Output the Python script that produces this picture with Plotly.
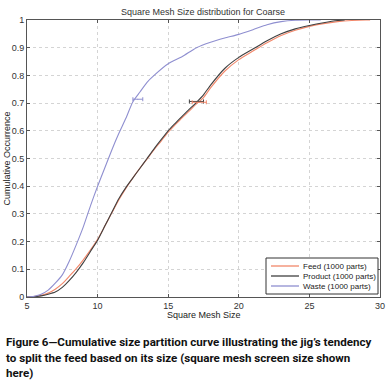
import plotly.graph_objects as go

# ---- data ----
feed_x = [5, 5.5, 6, 6.5, 7, 7.5, 8, 8.5, 9, 9.5, 10, 10.5, 11, 11.5, 12, 12.5, 13, 13.5, 14, 14.5,
          15, 15.5, 16, 16.5, 17, 17.5, 18, 19, 20, 21, 22, 23, 24, 25, 26, 27, 28, 29, 29.3]
feed_y = [0, 0.002, 0.006, 0.014, 0.028, 0.048, 0.075, 0.103, 0.135, 0.17, 0.208, 0.255, 0.303, 0.35,
          0.392, 0.43, 0.465, 0.498, 0.532, 0.563, 0.595, 0.622, 0.648, 0.672, 0.697, 0.72, 0.755,
          0.815, 0.857, 0.888, 0.918, 0.944, 0.963, 0.977, 0.987, 0.994, 0.998, 1.0, 1.0]

product_x = [5, 5.5, 6, 6.5, 7, 7.5, 8, 8.5, 9, 9.5, 10, 10.5, 11, 11.5, 12, 12.5, 13, 13.5, 14, 14.5,
             15, 15.5, 16, 16.5, 17, 17.5, 18, 19, 20, 21, 22, 23, 24, 25, 26, 27, 27.5]
product_y = [0, 0.001, 0.004, 0.01, 0.018, 0.035, 0.06, 0.09, 0.125, 0.165, 0.205, 0.255, 0.305, 0.355,
             0.395, 0.43, 0.465, 0.5, 0.535, 0.568, 0.6, 0.627, 0.653, 0.678, 0.703, 0.73, 0.765,
             0.825, 0.865, 0.895, 0.925, 0.95, 0.968, 0.98, 0.99, 0.998, 1.0]

waste_x = [5, 5.5, 6, 6.5, 7, 7.5, 8, 8.5, 9, 9.5, 10, 10.5, 11, 11.5, 12, 12.5, 13, 13.5, 14, 15,
           16, 17, 18, 19, 20, 21, 22, 23, 24, 25, 25.8]
waste_y = [0, 0.003, 0.01, 0.025, 0.05, 0.08, 0.13, 0.19, 0.255, 0.33, 0.4, 0.465, 0.53, 0.59, 0.645,
           0.705, 0.74, 0.775, 0.8, 0.842, 0.868, 0.9, 0.92, 0.935, 0.948, 0.965, 0.983, 0.994, 0.999,
           1.0, 1.0]

# horizontal error bars (centre x, y, half width)
err_feed = (17.2, 0.703, 0.5)
err_product = (17.0, 0.706, 0.5)
err_waste = (12.85, 0.714, 0.35)

names = ["Feed (1000 parts)", "Product (1000 parts)", "Waste (1000 parts)"]
colors = ["#f2876a", "#404040", "#8f8fd0"]

x_ticks = [5, 10, 15, 20, 25, 30]
y_ticks = [0, 0.1, 0.2, 0.3, 0.4, 0.5, 0.6, 0.7, 0.8, 0.9, 1]

caption = ["Figure 6\u2014Cumulative size partition curve illustrating the jig\u2019s tendency",
           "to split the feed based on its size (square mesh screen size shown",
           "here)"]

# plot area in pixels (layout only)
W, H = 387, 383
L, R, T, B = 27, 7, 20, 86
PW, PH = W - L - R, H - T - B


def px_x(p):
    return (p - L) / PW


def px_y(p):
    return (H - B - p) / PH


fig = go.Figure()
for xs, ys, nm, col in [(feed_x, feed_y, names[0], colors[0]),
                        (product_x, product_y, names[1], colors[1]),
                        (waste_x, waste_y, names[2], colors[2])]:
    fig.add_trace(go.Scatter(x=xs, y=ys, mode="lines", name=nm, showlegend=False,
                             line=dict(color=col, width=1.1, shape="spline", smoothing=0.6)))

for (cx, cy, hw), col in [(err_product, colors[1]), (err_feed, colors[0]), (err_waste, colors[2])]:
    fig.add_trace(go.Scatter(x=[cx], y=[cy], mode="markers", showlegend=False,
                             marker=dict(size=1, color=col),
                             error_x=dict(type="data", array=[hw], color=col, thickness=1, width=2)))

fig.update_layout(
    width=W, height=H,
    margin=dict(l=L, r=R, t=T, b=B, autoexpand=False),
    paper_bgcolor="white", plot_bgcolor="white",
    font=dict(family="Liberation Sans, Arial", size=9, color="#333"),
    title=dict(text="Square Mesh Size distribution for Coarse", x=203 / W,
               xanchor="center", xref="container", y=1 - 12 / H, yanchor="middle",
               font=dict(size=9, color="#333")),
    showlegend=False,
)
fig.update_xaxes(range=[5, 30], tickvals=x_ticks, showgrid=True, gridcolor="#d4d4d4",
                 griddash="dot", zeroline=False, showline=True, linecolor="#555",
                 mirror="ticks", ticks="inside", ticklen=3, tickcolor="#555", automargin=False,
                 tickfont=dict(size=9, color="#333"))
fig.update_yaxes(range=[0, 1], tickvals=y_ticks, ticktext=[("%g" % v) for v in y_ticks],
                 showgrid=True, gridcolor="#d4d4d4",
                 griddash="dot", zeroline=False, showline=True, linecolor="#555",
                 mirror="ticks", ticks="inside", ticklen=3, tickcolor="#555", automargin=False,
                 tickfont=dict(size=9, color="#333"))

# legend (drawn as a box in the lower right, MATLAB style)
lx0, lx1, ly0, ly1 = 266, 378, 258, 294
fig.add_shape(type="rect", xref="paper", yref="paper", x0=px_x(lx0), x1=px_x(lx1),
              y0=px_y(ly1), y1=px_y(ly0), line=dict(color="#333", width=1), fillcolor="white",
              layer="above")
row_y = [266, 276, 286]
for nm, col, ry in zip(names, colors, row_y):
    fig.add_shape(type="line", xref="paper", yref="paper", x0=px_x(271), x1=px_x(299),
                  y0=px_y(ry), y1=px_y(ry), line=dict(color=col, width=1.3), layer="above")
    fig.add_annotation(text=nm, xref="paper", yref="paper", x=px_x(301), y=px_y(ry),
                       xanchor="left", yanchor="middle", showarrow=False,
                       font=dict(size=8, color="#222"))

fig.add_annotation(text="Square Mesh Size", xref="paper", yref="paper", x=0.5, y=px_y(315),
                   showarrow=False, font=dict(size=9, color="#222"), yanchor="middle")
fig.add_annotation(text="Cumulative Occurrence", xref="paper", yref="paper", x=px_x(6), y=0.5,
                   textangle=-90, showarrow=False, font=dict(size=9, color="#222"),
                   xanchor="center", yanchor="middle")
cap_y = [342, 358, 373]
for line, py in zip(caption, cap_y):
    fig.add_annotation(text="<b>" + line + "</b>", xref="paper", yref="paper",
                       x=px_x(4), xanchor="left", y=px_y(py), yanchor="middle",
                       showarrow=False, font=dict(size=11.6, color="#111", family="Roboto, Liberation Sans"))

fig.write_html("out.html", config={"displayModeBar": False},
               post_script="document.body.style.margin='0px';document.body.style.overflow='hidden';")
